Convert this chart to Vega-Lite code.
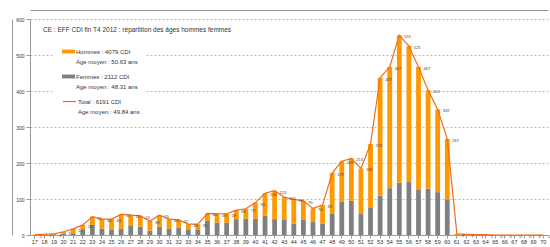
{
  "$schema": "https://vega.github.io/schema/vega-lite/v6.json",
  "width": 518,
  "height": 216,
  "autosize": "none",
  "padding": {"left": 30, "top": 19, "right": 2, "bottom": 12},
  "background": "white",
  "title": {
    "text": "CE : EFF CDI  fin T4 2012 : répartition des âges hommes femmes",
    "anchor": "start",
    "frame": "group",
    "orient": "top",
    "offset": 0,
    "baseline": "middle",
    "dx": 13,
    "dy": 26,
    "fontSize": 6.5,
    "fontWeight": "normal",
    "font": "Liberation Sans",
    "color": "#333333"
  },
  "data": {
    "values": [
      {"age": 17, "femmes": 0, "hommes": 1, "total": 1},
      {"age": 18, "femmes": 0, "hommes": 2, "total": 2},
      {"age": 19, "femmes": 0, "hommes": 3, "total": 3},
      {"age": 20, "femmes": 3, "hommes": 6, "total": 9},
      {"age": 21, "femmes": 5, "hommes": 12, "total": 17},
      {"age": 22, "femmes": 14, "hommes": 14, "total": 28},
      {"age": 23, "femmes": 28, "hommes": 23, "total": 51},
      {"age": 24, "femmes": 18, "hommes": 26, "total": 44},
      {"age": 25, "femmes": 14, "hommes": 30, "total": 44},
      {"age": 26, "femmes": 17, "hommes": 40, "total": 57},
      {"age": 27, "femmes": 27, "hommes": 28, "total": 55},
      {"age": 28, "femmes": 23, "hommes": 30, "total": 53},
      {"age": 29, "femmes": 12, "hommes": 27, "total": 39},
      {"age": 30, "femmes": 23, "hommes": 32, "total": 55},
      {"age": 31, "femmes": 17, "hommes": 27, "total": 44},
      {"age": 32, "femmes": 20, "hommes": 22, "total": 42},
      {"age": 33, "femmes": 14, "hommes": 16, "total": 30},
      {"age": 34, "femmes": 14, "hommes": 16, "total": 30},
      {"age": 35, "femmes": 39, "hommes": 21, "total": 60},
      {"age": 36, "femmes": 34, "hommes": 25, "total": 59},
      {"age": 37, "femmes": 34, "hommes": 25, "total": 59},
      {"age": 38, "femmes": 44, "hommes": 25, "total": 69},
      {"age": 39, "femmes": 45, "hommes": 28, "total": 73},
      {"age": 40, "femmes": 45, "hommes": 45, "total": 90},
      {"age": 41, "femmes": 54, "hommes": 62, "total": 116},
      {"age": 42, "femmes": 44, "hommes": 79, "total": 123},
      {"age": 43, "femmes": 44, "hommes": 61, "total": 105},
      {"age": 44, "femmes": 32, "hommes": 67, "total": 99},
      {"age": 45, "femmes": 42, "hommes": 53, "total": 95},
      {"age": 46, "femmes": 36, "hommes": 38, "total": 74},
      {"age": 47, "femmes": 31, "hommes": 52, "total": 83},
      {"age": 48, "femmes": 60, "hommes": 112, "total": 172},
      {"age": 49, "femmes": 92, "hommes": 113, "total": 205},
      {"age": 50, "femmes": 95, "hommes": 118, "total": 213},
      {"age": 51, "femmes": 60, "hommes": 125, "total": 185},
      {"age": 52, "femmes": 77, "hommes": 176, "total": 253},
      {"age": 53, "femmes": 109, "hommes": 328, "total": 437},
      {"age": 54, "femmes": 130, "hommes": 337, "total": 467},
      {"age": 55, "femmes": 145, "hommes": 410, "total": 555},
      {"age": 56, "femmes": 147, "hommes": 378, "total": 525},
      {"age": 57, "femmes": 125, "hommes": 342, "total": 467},
      {"age": 58, "femmes": 129, "hommes": 273, "total": 402},
      {"age": 59, "femmes": 119, "hommes": 230, "total": 349},
      {"age": 60, "femmes": 99, "hommes": 168, "total": 267},
      {"age": 61, "femmes": 0, "hommes": 3, "total": 3},
      {"age": 62, "femmes": 0, "hommes": 2, "total": 2},
      {"age": 63, "femmes": 0, "hommes": 1, "total": 1},
      {"age": 64, "femmes": 0, "hommes": 1, "total": 1},
      {"age": 65, "femmes": 0, "hommes": 0, "total": 0},
      {"age": 66, "femmes": 0, "hommes": 0, "total": 0},
      {"age": 67, "femmes": 0, "hommes": 0, "total": 0},
      {"age": 68, "femmes": 0, "hommes": 0, "total": 0},
      {"age": 69, "femmes": 0, "hommes": 0, "total": 0},
      {"age": 70, "femmes": 0, "hommes": 0, "total": 0}
    ]
  },
  "resolve": {"axis": {"x": "independent", "y": "independent"}},
  "layer": [
    {
      "transform": [{"fold": ["femmes", "hommes"], "as": ["sexe", "n"]}],
      "mark": {"type": "bar"},
      "encoding": {
        "x": {
          "field": "age", "type": "ordinal",
          "scale": {"paddingInner": 0.5, "paddingOuter": 0.25},
          "axis": {
            "title": null, "labelAngle": 0, "labelFontSize": 5.5, "labelColor": "#333333",
            "labelFont": "Liberation Sans", "tickSize": 3, "tickColor": "#999999",
            "domainColor": "#999999", "labelPadding": 1, "grid": false, "labelOverlap": false
          }
        },
        "y": {
          "field": "n", "type": "quantitative", "stack": "zero",
          "scale": {"domain": [0, 600], "nice": false},
          "axis": {
            "title": null, "values": [0, 100, 200, 300, 400, 500, 600],
            "labelFontSize": 5, "labelColor": "#333333", "labelFont": "Liberation Sans",
            "tickSize": 4, "tickColor": "#999999", "domainColor": "#999999",
            "labelPadding": 2, "grid": true, "gridColor": "#bbbbbb", "gridDash": [2, 2],
            "gridWidth": 1, "labelOverlap": false
          }
        },
        "color": {
          "field": "sexe", "type": "nominal",
          "scale": {"domain": ["hommes", "femmes"], "range": ["#FF9900", "#808080"]},
          "legend": {
            "orient": "none", "legendX": 24, "legendY": 18, "title": null,
            "fillColor": "white", "padding": 8, "rowPadding": 5,
            "symbolType": "M-1,-0.3H1V0.3H-1Z", "symbolSize": 169, "symbolStrokeWidth": 0,
            "labelFontSize": 6, "labelFont": "Liberation Sans", "labelColor": "#333333",
            "labelBaseline": "middle", "labelOffset": 1,
            "labelExpr": "datum.value == 'hommes' ? ['Hommes : 4079 CDI', '\u00a0\u00a0\u00a0Age moyen : 50.63 ans'] : ['Femmes : 2112 CDI', '\u00a0\u00a0\u00a0Age moyen : 48.31 ans']",
            "encode": {"labels": {"update": {"lineHeight": {"value": 10}}}}
          }
        },
        "order": {"field": "sexe", "sort": "ascending"}
      }
    },
    {
      "mark": {"type": "line", "strokeWidth": 1.2},
      "encoding": {
        "x": {"field": "age", "type": "ordinal", "axis": null},
        "y": {"field": "total", "type": "quantitative", "axis": null},
        "stroke": {
          "datum": "Total",
          "scale": {"domain": ["Total"], "range": ["#F26B1D"]},
          "legend": {
            "orient": "none", "legendX": 24, "legendY": 67, "title": null,
            "padding": 8,
            "symbolType": "stroke", "symbolSize": 169, "symbolStrokeWidth": 1.2,
            "labelFontSize": 6, "labelFont": "Liberation Sans", "labelColor": "#333333",
            "labelBaseline": "middle", "labelOffset": 1,
            "labelExpr": "['Total : 6191 CDI', 'Age moyen : 49.84 ans']",
            "encode": {"labels": {"update": {"lineHeight": {"value": 10}}}}
          }
        }
      }
    },
    {
      "mark": {"type": "text", "fontSize": 4, "dx": 5, "dy": 2, "align": "left", "color": "#444444", "font": "Liberation Sans"},
      "encoding": {
        "x": {
          "field": "age", "type": "ordinal",
          "axis": {"orient": "top", "offset": 9, "labels": false, "ticks": false, "grid": false, "title": null, "domainColor": "#999999", "domainWidth": 1}
        },
        "y": {
          "field": "total", "type": "quantitative",
          "axis": {"orient": "left", "offset": 18, "labels": false, "ticks": false, "grid": false, "title": null, "domainColor": "#999999", "domainWidth": 1}
        },
        "text": {"field": "total", "type": "quantitative"}
      }
    }
  ],
  "config": {
    "view": {"stroke": null},
    "legend": {"labelLimit": 200}
  }
}
